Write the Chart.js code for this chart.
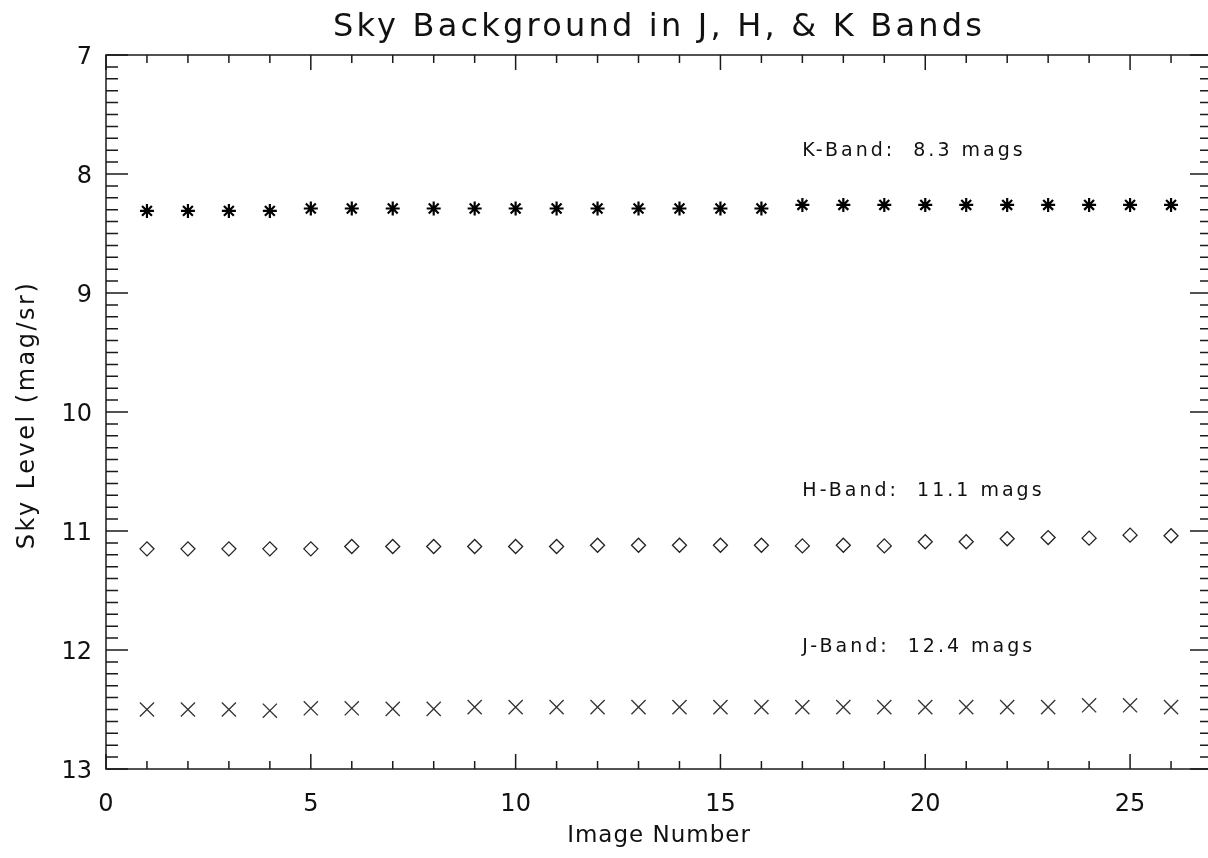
<!DOCTYPE html>
<html lang="en">
<head>
    <meta charset="UTF-8" />
    <title>Sky Background in J, H, & K Bands</title>
    <style>
        body {
            margin: 0;
            padding: 0;
            background-color: #fff;
            overflow: hidden;
        }
        /* the plot box runs a few px past the right edge, like the original */
        .chart-box {
            width: 1208px;
            height: 858px;
            overflow: hidden;
        }
        #chart {
            display: block;
        }
    </style>
    <script src="https://cdn.jsdelivr.net/npm/chart.js"></script>
</head>
<body>
    <div class="chart-box">
        <canvas id="chart" width="1216" height="858"></canvas>
    </div>
    <script>
        // Image numbers along the x axis
        const imageNumbers = [1, 2, 3, 4, 5, 6, 7, 8, 9, 10, 11, 12, 13,
            14, 15, 16, 17, 18, 19, 20, 21, 22, 23, 24, 25, 26];

        // Sky levels (mag/sr)
        const kBand = [8.31, 8.31, 8.31, 8.31, 8.29, 8.29, 8.29, 8.29, 8.29,
            8.29, 8.29, 8.29, 8.29, 8.29, 8.29, 8.29, 8.26, 8.26, 8.26, 8.26,
            8.26, 8.26, 8.26, 8.26, 8.26, 8.26];
        const hBand = [11.15, 11.15, 11.15, 11.15, 11.15, 11.13, 11.13, 11.13,
            11.13, 11.13, 11.13, 11.12, 11.12, 11.12, 11.12, 11.12, 11.125,
            11.12, 11.125, 11.09, 11.09, 11.065, 11.055, 11.06, 11.035, 11.04];
        const jBand = [12.5, 12.5, 12.5, 12.51, 12.49, 12.49, 12.495, 12.495,
            12.48, 12.48, 12.48, 12.48, 12.48, 12.48, 12.48, 12.48, 12.48,
            12.48, 12.48, 12.48, 12.48, 12.48, 12.48, 12.465, 12.465, 12.48];

        // Band summary labels
        const bandLabels = ["K-Band:  8.3 mags", "H-Band:  11.1 mags", "J-Band:  12.4 mags"];
        const bandLabelPos = [[17, 7.85], [17, 10.71], [17, 12.02]];

        const xMin = 0, xMax = 27;
        const yMin = 7, yMax = 13;

        const ink = "#111";
        const fontFamily = "'DejaVu Sans', sans-serif";

        function toPoints(values) {
            return values.map((v, i) => ({ x: imageNumbers[i], y: v }));
        }

        // Draws the IDL-style box with inward ticks plus titles and notes
        const frameAndText = {
            id: "frameAndText",
            afterDraw(chart) {
                const { ctx, chartArea: a } = chart;
                const x = chart.scales.x;
                const y = chart.scales.y;

                ctx.save();
                ctx.strokeStyle = "#1a1a1a";
                ctx.lineWidth = 1.5;
                ctx.strokeRect(a.left, a.top, a.right - a.left, a.bottom - a.top);

                ctx.beginPath();
                for (let v = xMin; v <= xMax; v++) {
                    const px = x.getPixelForValue(v);
                    const len = v % 5 === 0 ? 15 : 8;
                    ctx.moveTo(px, a.bottom);
                    ctx.lineTo(px, a.bottom - len);
                    ctx.moveTo(px, a.top);
                    ctx.lineTo(px, a.top + len);
                }
                for (let i = 0; i <= (yMax - yMin) * 10; i++) {
                    const py = y.getPixelForValue(yMin + i / 10);
                    const len = i % 10 === 0 ? 22 : 12;
                    ctx.moveTo(a.left, py);
                    ctx.lineTo(a.left + len, py);
                    ctx.moveTo(a.right, py);
                    ctx.lineTo(a.right - len, py);
                }
                ctx.stroke();

                ctx.fillStyle = ink;
                ctx.textAlign = "center";
                ctx.textBaseline = "middle";

                // title
                ctx.font = "32px " + fontFamily;
                ctx.letterSpacing = "3.2px";
                ctx.fillText("Sky Background in J, H, & K Bands", (a.left + a.right) / 2, 28);

                // axis titles
                ctx.font = "23px " + fontFamily;
                ctx.letterSpacing = "1px";
                ctx.fillText("Image Number", (a.left + a.right) / 2, 836);
                ctx.save();
                ctx.font = "24px " + fontFamily;
                ctx.letterSpacing = "2.5px";
                ctx.translate(28, 415);
                ctx.rotate(-Math.PI / 2);
                ctx.fillText("Sky Level (mag/sr)", 0, 0);
                ctx.restore();

                // band notes
                ctx.font = "19px " + fontFamily;
                ctx.letterSpacing = "3px";
                ctx.textAlign = "left";
                ctx.textBaseline = "alphabetic";
                bandLabels.forEach((txt, i) => {
                    const [lx, ly] = bandLabelPos[i];
                    ctx.fillText(txt, x.getPixelForValue(lx), y.getPixelForValue(ly));
                });
                ctx.letterSpacing = "0px";
                ctx.restore();
            },
        };

        Chart.defaults.font.family = fontFamily;
        Chart.defaults.color = ink;

        new Chart(document.getElementById("chart"), {
            type: "scatter",
            data: {
                datasets: [
                    {
                        label: "K-Band",
                        data: toPoints(kBand),
                        pointStyle: "star",
                        pointRadius: 7,
                        borderColor: "#000",
                        backgroundColor: "#000",
                        borderWidth: 2.2,
                    },
                    {
                        label: "H-Band",
                        data: toPoints(hBand),
                        pointStyle: "rectRot",
                        pointRadius: 7,
                        borderColor: "#222",
                        backgroundColor: "rgba(0,0,0,0)",
                        borderWidth: 1.3,
                    },
                    {
                        label: "J-Band",
                        data: toPoints(jBand),
                        pointStyle: "crossRot",
                        pointRadius: 10,
                        borderColor: "#333",
                        backgroundColor: "#333",
                        borderWidth: 1.3,
                    },
                ],
            },
            options: {
                responsive: false,
                animation: false,
                layout: {
                    autoPadding: false,
                    padding: { top: 55, right: 4, left: 0, bottom: 0 },
                },
                plugins: {
                    legend: { display: false },
                    title: { display: false },
                    tooltip: { enabled: false },
                },
                scales: {
                    x: {
                        type: "linear",
                        min: xMin,
                        max: xMax,
                        grid: { display: false, drawTicks: false },
                        border: { display: false },
                        ticks: {
                            stepSize: 5,
                            includeBounds: false,
                            padding: 21,
                            font: { size: 24 },
                            maxRotation: 0,
                        },
                        afterFit: (scale) => { scale.height = 89; },
                    },
                    y: {
                        type: "linear",
                        min: yMin,
                        max: yMax,
                        reverse: true,
                        grid: { display: false, drawTicks: false },
                        border: { display: false },
                        ticks: {
                            stepSize: 1,
                            padding: 14,
                            labelOffset: 3,
                            font: { size: 24 },
                        },
                        afterFit: (scale) => { scale.width = 106; },
                    },
                },
            },
            plugins: [frameAndText],
        });
    </script>
</body>
</html>
